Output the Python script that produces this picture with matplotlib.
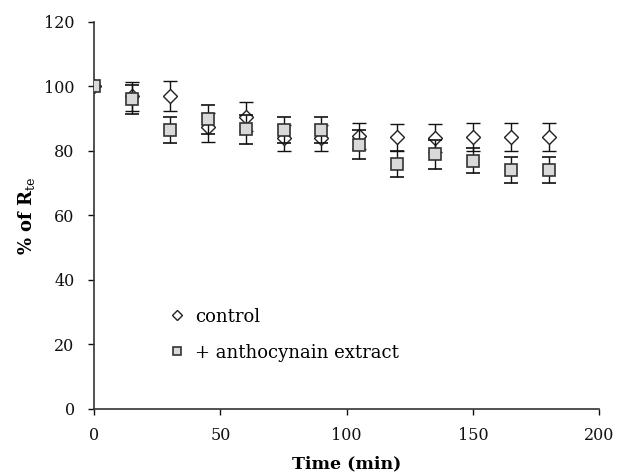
import matplotlib.pyplot as plt
import numpy as np

time = [0, 15, 30, 45, 60, 75, 90, 105, 120, 135, 150, 165, 180]
control = [100, 97, 97, 87.3, 90.6, 84, 84, 84.5, 84.2, 84, 84.2, 84.2, 84.2]
control_err = [0, 4.5, 4.7, 4.5, 4.5, 4, 4, 4, 4.2, 4.3, 4.3, 4.3, 4.3]
antho = [100, 96, 86.5, 89.8, 86.7, 86.5, 86.5, 81.9, 76, 79, 77, 74, 74]
antho_err = [0, 4.5, 4, 4.5, 4.5, 4, 4, 4.5, 4, 4.5, 4, 4, 4]

plt.rcParams['font.family'] = ['DejaVu Serif', 'Liberation Serif']
plt.rcParams['mathtext.fontset'] = 'dejavuserif'

fig = plt.figure(figsize=(6.19, 4.75), dpi=100)
ax = fig.add_axes([0.152, 0.139, 0.816, 0.815])

ax.errorbar(time, control, yerr=control_err, fmt='D', ms=7.5, mfc='white',
            mec='#222222', mew=1.0, ecolor='#111111', elinewidth=1.0,
            capsize=5, capthick=1.2, label='control', zorder=3)
ax.errorbar(time, antho, yerr=antho_err, fmt='s', ms=8, mfc='#d9d9d9',
            mec='#333333', mew=1.2, ecolor='#111111', elinewidth=1.0,
            capsize=5, capthick=1.2, label='+ anthocynain extract', zorder=4)

ax.set_xlim(0, 200)
ax.set_ylim(0, 120)
ax.set_xticks(np.arange(0, 201, 50))
ax.set_yticks(np.arange(0, 121, 20))
ax.tick_params(direction='out', length=4, width=1, labelsize=11.5, colors='#111111')
ax.tick_params(axis='x', pad=9)
ax.tick_params(axis='y', pad=10)
for s in ['top', 'right']:
    ax.spines[s].set_visible(False)
for s in ['left', 'bottom']:
    ax.spines[s].set_color('#333333')
    ax.spines[s].set_linewidth(1.2)

ax.set_xlabel('Time (min)', fontsize=12.5, fontweight='bold', labelpad=8)
ax.set_ylabel(r'% of R$_{\mathrm{te}}$', fontsize=13, fontweight='bold', labelpad=5)

handles, labels = ax.get_legend_handles_labels()
handles = [h[0] for h in handles]
ax.legend(handles, labels, frameon=False, loc='lower left',
          bbox_to_anchor=(0.118, 0.08), fontsize=13, markerscale=0.65,
          handlelength=0.8, handletextpad=0.6, labelspacing=1.0)

fig.savefig('out.png', dpi=100)
